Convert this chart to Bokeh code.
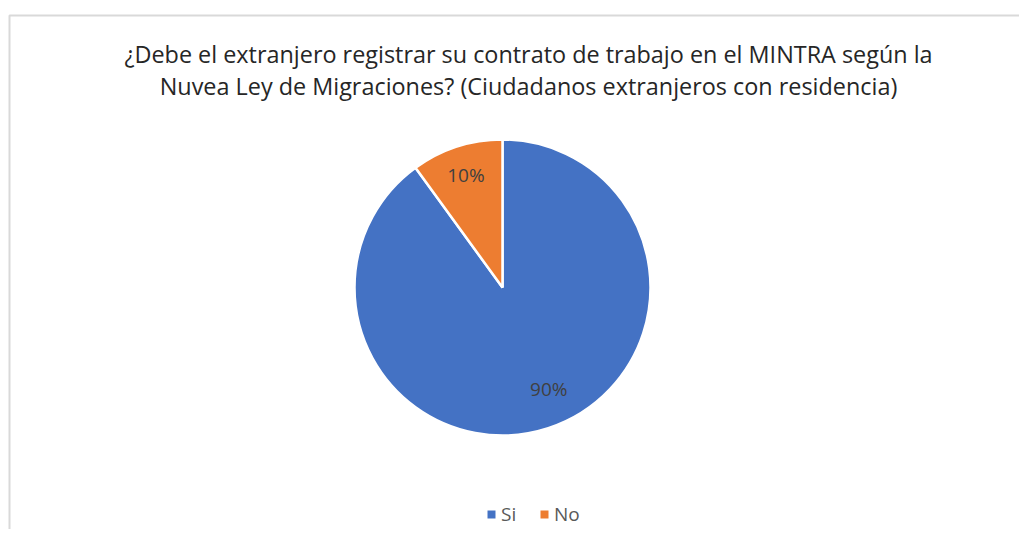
import math
from bokeh.plotting import figure
from bokeh.models import Range1d, Legend, LegendItem, ColumnDataSource, Label
from bokeh.embed import file_html
from bokeh.resources import INLINE

# ---- data ----
categories = ["Si", "No"]
percentages = [90, 10]
colors = ["#4472C4", "#ED7D31"]
title_lines = [
    "¿Debe el extranjero registrar su contrato de trabajo en el MINTRA según la",
    "Nuvea Ley de Migraciones? (Ciudadanos extranjeros con residencia)",
]

W, H = 1019, 529
FONT = "Open Sans"

p = figure(width=W, height=H, output_backend="svg", toolbar_location=None,
           x_range=Range1d(0, W), y_range=Range1d(0, H), min_border=0)
p.axis.visible = False
p.grid.visible = False
p.outline_line_color = None
p.background_fill_color = "white"
p.border_fill_color = "white"

# chart area border (cropped on right/bottom like the reference)
p.line([9, 9, W + 50], [-50, H - 15, H - 15], line_color="#d9d9d9", line_width=2)

# title
for i, t in enumerate(title_lines):
    p.add_layout(Label(x=528, y=H - 53.5 - i * 31.8, text=t, text_align="center",
                       text_baseline="middle", text_font=FONT,
                       text_font_size="23.4px", text_color="#262626"))

# pie: Excel style, starts at 12 o'clock and goes clockwise
cx, cy, r = 502, H - 287, 148
total = sum(percentages)
starts, ends, mids = [], [], []
acc = 0.0
for v in percentages:
    a0 = math.pi / 2 - 2 * math.pi * acc / total
    acc += v
    a1 = math.pi / 2 - 2 * math.pi * acc / total
    starts.append(a1)
    ends.append(a0)
    mids.append((a0 + a1) / 2)

src = ColumnDataSource(dict(cat=categories, val=percentages, color=colors,
                            start=starts, end=ends,
                            x=[cx] * len(categories), y=[cy] * len(categories)))
wr = p.wedge(x="x", y="y", radius=r, start_angle="start", end_angle="end",
             fill_color="color", line_color="white", line_width=2.5, source=src)

# data labels (radial fraction and small nudges mimic Excel placement)
label_frac = [0.75, 0.80]
label_nudge = [(12, 4), (0, 0)]
for v, m, f, (ox, oy) in zip(percentages, mids, label_frac, label_nudge):
    p.add_layout(Label(x=cx + f * r * math.cos(m), y=cy + f * r * math.sin(m),
                       x_offset=ox, y_offset=oy,
                       text=f"{v}%", text_align="center", text_baseline="middle",
                       text_font=FONT, text_font_size="19px",
                       text_color="#404040"))

# legend swatches: off-canvas proxy renderers carrying each slice colour
proxies = [p.rect(x=[-1000], y=[-1000], width=1, height=1, fill_color=c,
                  line_color=None) for c in colors]
legend = Legend(items=[LegendItem(label=c, renderers=[pr])
                       for c, pr in zip(categories, proxies)],
                orientation="horizontal", location=(486, 2),
                glyph_width=10, glyph_height=10, label_text_font=FONT,
                label_text_font_size="19px", label_text_color="#595959",
                border_line_color=None, background_fill_alpha=0,
                spacing=18, label_standoff=5, padding=0, margin=0)
p.add_layout(legend)

open("out.html", "w").write(file_html(p, INLINE))
